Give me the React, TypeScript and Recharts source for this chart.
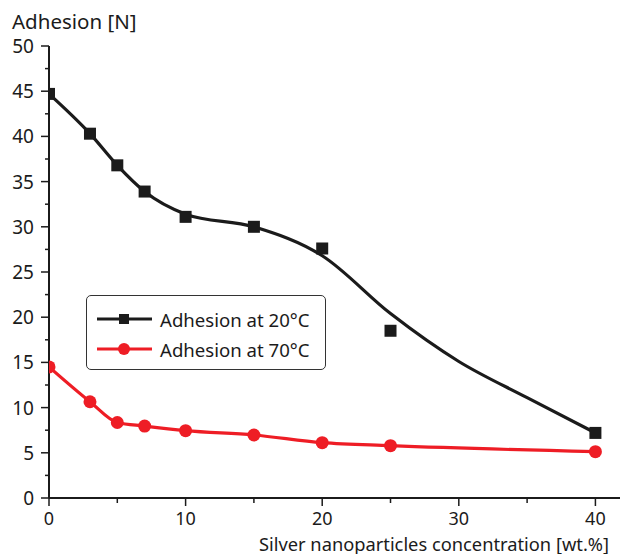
import React from 'react';
import { ComposedChart, Line, Scatter, XAxis, YAxis } from 'recharts';

// measured points
const conc = [0, 3, 5, 7, 10, 15, 20, 25, 40];
const adhesion20 = [44.7, 40.3, 36.8, 33.9, 31.1, 30.0, 27.6, 18.5, 7.2];
const adhesion70 = [14.5, 10.65, 8.35, 7.96, 7.45, 6.97, 6.12, 5.79, 5.12];

// smoothed fit curve for 20°C
const fitConc = [0, 3, 5, 7, 10, 15, 20, 25, 30, 35, 40];
const fit20 = [44.7, 40.3, 36.8, 33.9, 31.4, 30.0, 26.8, 20.4, 15.1, 11.1, 7.2];

const xTicks = [0, 5, 10, 15, 20, 25, 30, 35, 40];
const yTicks = [0, 2.5, 5, 7.5, 10, 12.5, 15, 17.5, 20, 22.5, 25, 27.5, 30, 32.5, 35, 37.5, 40, 42.5, 45, 47.5, 50];

const BLACK = '#1b1b1b';
const RED = '#ee1d25';
const FONT = '"Noto Sans", "Open Sans", sans-serif';

const pts20 = conc.map((c, i) => ({ x: c, y: adhesion20[i] }));
const pts70 = conc.map((c, i) => ({ x: c, y: adhesion70[i] }));
const fitPts = fitConc.map((c, i) => ({ x: c, y: fit20[i] }));

// tickSize/tickMargin are 0, so x/y here sit right on the axis line
const XTick = (props: any) => {
  const { x, y, payload } = props;
  const major = payload.value % 10 === 0;
  return (
    <g>
      <line x1={x} x2={x} y1={y} y2={y + (major ? 8 : 5)} stroke={BLACK} strokeWidth={1.5} />
      {major && (
        <text x={x} y={y + 27} textAnchor="middle" fontSize={18} fill={BLACK} fontFamily={FONT}>
          {payload.value}
        </text>
      )}
    </g>
  );
};

const YTick = (props: any) => {
  const { x, y, payload } = props;
  const major = payload.value % 5 === 0;
  return (
    <g>
      <line x1={x} x2={x - (major ? 8 : 4)} y1={y} y2={y} stroke={BLACK} strokeWidth={1.5} />
      {major && (
        <text x={x - 15} y={y + 7} textAnchor="end" fontSize={19} fill={BLACK} fontFamily={FONT}>
          {payload.value}
        </text>
      )}
    </g>
  );
};

const Square = (props: any) => {
  const { cx, cy } = props;
  return <rect x={cx - 6} y={cy - 6} width={12} height={12} fill={BLACK} />;
};

const Dot = (props: any) => {
  const { cx, cy } = props;
  return <circle cx={cx} cy={cy} r={6.5} fill={RED} />;
};

const legendItems = [
  { label: 'Adhesion at 20°C', color: BLACK, square: true },
  { label: 'Adhesion at 70°C', color: RED, square: false },
];

const LegendBox = () => (
  <div
    style={{
      position: 'absolute',
      left: 86,
      top: 295,
      width: 240,
      height: 75,
      border: '1.5px solid #333',
      borderRadius: 5,
      background: '#fff',
      boxSizing: 'border-box',
      fontFamily: FONT,
      fontSize: 18.6,
      color: BLACK,
    }}
  >
    {legendItems.map((item, i) => (
      <div key={i} style={{ display: 'flex', alignItems: 'center', height: 30, marginTop: i === 0 ? 8 : 0 }}>
        <svg width={70} height={20} style={{ marginLeft: 8, flexShrink: 0 }}>
          <line x1={2} x2={57} y1={10} y2={10} stroke={item.color} strokeWidth={3} />
          {item.square ? (
            <rect x={24} y={5} width={10} height={10} fill={item.color} />
          ) : (
            <circle cx={29} cy={10} r={6} fill={item.color} />
          )}
        </svg>
        <span style={{ marginLeft: -5, whiteSpace: 'nowrap' }}>{item.label}</span>
      </div>
    ))}
  </div>
);

export default function App() {
  return (
    <div style={{ position: 'absolute', left: 0, top: 0, width: 620, height: 554, background: '#fff' }}>
      <ComposedChart width={620} height={554} margin={{ top: 46, right: 0, bottom: 0, left: 0 }}>
        <XAxis
          type="number"
          dataKey="x"
          domain={[0, 41.8]}
          ticks={xTicks}
          interval={0}
          allowDataOverflow
          height={56}
          axisLine={{ stroke: BLACK, strokeWidth: 2 }}
          tickLine={false}
          tickSize={0}
          tickMargin={0}
          tick={<XTick />}
          label={{
            content: () => (
              <text x={609} y={550.5} textAnchor="end" fontSize={18.3} fill={BLACK} fontFamily={FONT}>
                Silver nanoparticles concentration [wt.%]
              </text>
            ),
          }}
        />
        <YAxis
          type="number"
          dataKey="y"
          domain={[0, 50]}
          ticks={yTicks}
          interval={0}
          width={49}
          axisLine={{ stroke: BLACK, strokeWidth: 2 }}
          tickLine={false}
          tickSize={0}
          tickMargin={0}
          tick={<YTick />}
          label={{
            content: () => (
              <text x={12} y={29} fontSize={20.5} fill={BLACK} fontFamily={FONT}>
                Adhesion [N]
              </text>
            ),
          }}
        />
        <Line
          data={fitPts}
          dataKey="y"
          type="monotone"
          stroke={BLACK}
          strokeWidth={3.2}
          dot={false}
          activeDot={false}
          isAnimationActive={false}
          legendType="none"
        />
        <Scatter data={pts20} dataKey="y" shape={<Square />} isAnimationActive={false} />
        <Line
          data={pts70}
          dataKey="y"
          type="monotone"
          stroke={RED}
          strokeWidth={3.2}
          dot={false}
          activeDot={false}
          isAnimationActive={false}
        />
        <Scatter data={pts70} dataKey="y" shape={<Dot />} isAnimationActive={false} />
      </ComposedChart>
      <LegendBox />
    </div>
  );
}
